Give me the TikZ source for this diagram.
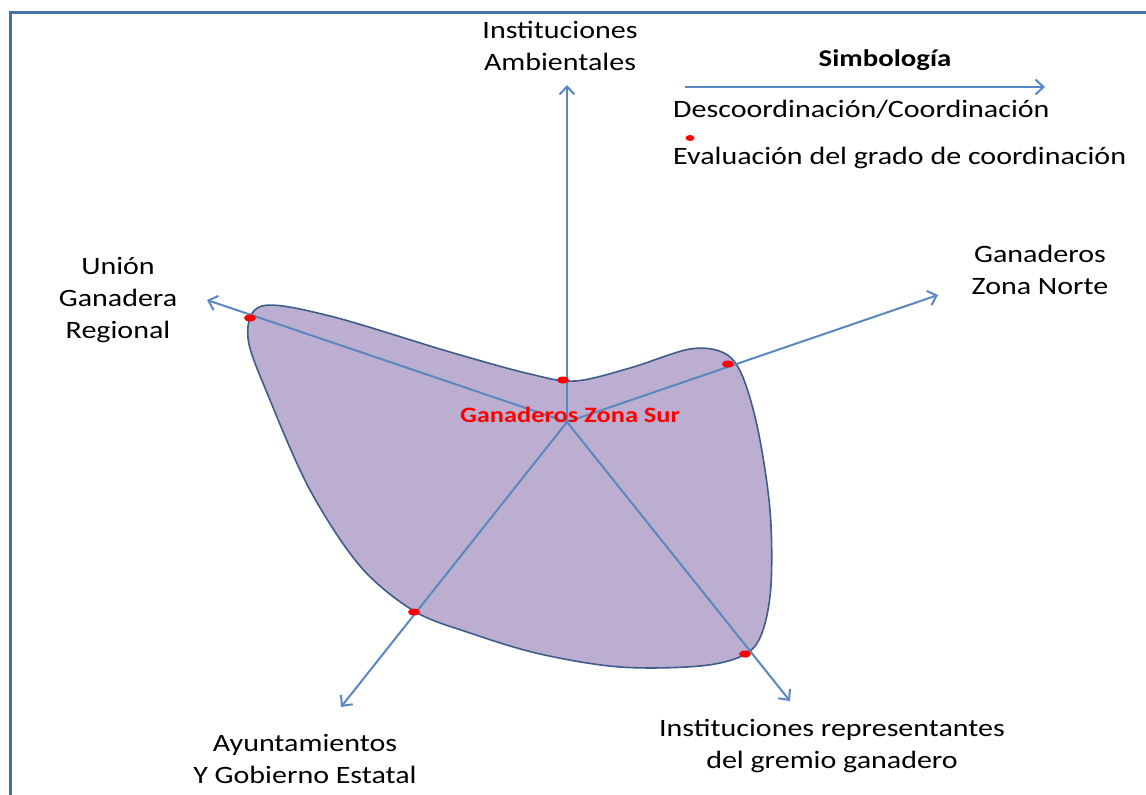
\documentclass[tikz,border=0pt]{standalone}
\usepackage{fontspec}
\setmainfont{Carlito}[FakeStretch=1.2]
\usetikzlibrary{arrows.meta,shapes.geometric}
\definecolor{axisblue}{HTML}{5B87C0}
\definecolor{edgeblue}{HTML}{3E5C8C}
\definecolor{blobfill}{HTML}{BCAED0}
\definecolor{framebl}{HTML}{4A6FA5}
\tikzset{
  axis/.style={draw=axisblue, line width=2pt, -{Straight Barb[length=8pt,width=15pt,line width=2pt]}},
  lbl/.style={font=\fontsize{25}{32}\selectfont, align=center, text=black, inner sep=0pt},
  reddot/.style={fill=red, draw=none, ellipse, minimum width=12pt, minimum height=7pt, inner sep=0pt},
}
\begin{document}
\begin{tikzpicture}[x=1pt,y=-1pt]
\useasboundingbox (0,0) rectangle (1146,795);
% frame
\draw[framebl, line width=3pt] (10,800) -- (10,12) -- (1150,12);
% blob
\draw[edgeblue, line width=1.6pt, fill=blobfill] plot[smooth cycle, tension=0.55] coordinates {
 (262,306) (330,316) (450,352) (530,374) (575,381) (630,368) (690,349) (724,353) (742,375)
 (758,430) (770,510) (771,585) (762,633) (744,655) (700,666) (620,667) (540,654) (470,633)
 (414,611) (360,566) (310,490) (270,400) (248,338)};
% center and axis ends
\coordinate (c) at (567,422);
\coordinate (eN) at (567,85);
\coordinate (eUL) at (207,300);
\coordinate (eR) at (938,295);
\coordinate (eLL) at (341,707);
\coordinate (eLR) at (790,701);
\draw[axis] (c) -- (eN);
\draw[axis] (c) -- (eUL);
\draw[axis] (c) -- (eR);
\draw[axis] (c) -- (eLL);
\draw[axis] (c) -- (eLR);
% evaluation dots
\node[reddot] (d1) at (563,380) {};
\node[reddot] (d2) at (250,318) {};
\node[reddot] (d3) at (728,364) {};
\node[reddot] (d4) at (414,612) {};
\node[reddot] (d5) at (745,654) {};
% labels
\node[lbl] (lN) at (560,46) {Instituciones\\Ambientales};
\node[lbl] (lUL) at (118,300) {Unión\\Ganadera\\Regional};
\node[lbl] (lR) at (1040,270) {Ganaderos\\Zona Norte};
\node[lbl] (lLL) at (305,759) {Ayuntamientos\\Y Gobierno Estatal};
\node[lbl] (lLR) at (832,746) {Instituciones representantes\\del gremio ganadero};
\node[lbl, text=red, font=\bfseries\fontsize{22}{26}\selectfont] (lc) at (570,415) {Ganaderos Zona Sur};
% legend
\node[lbl, font=\bfseries\fontsize{24}{28}\selectfont] (sim) at (885,60) {Simbología};
\coordinate (la) at (685,87);
\coordinate (lb) at (1045,87);
\draw[axis, line width=1.6pt] (la) -- (lb);
\node[lbl, anchor=west] (desc) at (673,109) {Descoordinación/Coordinación};
\node[reddot, minimum width=9pt, minimum height=6pt] (ld) at (690,138) {};
\node[lbl, anchor=west] (eval) at (673,158) {Evaluación del grado de coordinación};
\end{tikzpicture}
\end{document}
